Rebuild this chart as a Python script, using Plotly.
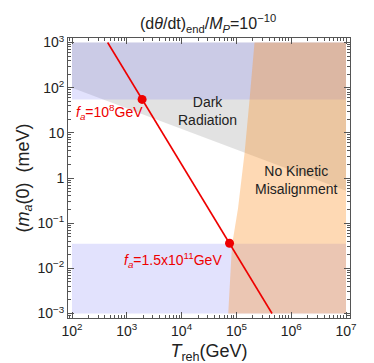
import plotly.graph_objects as go

# ---- data ----
x_range = [1e2, 1e7]
y_range = [1e-3, 1e3]

# Dark radiation lower boundary (T_reh, m_a)
dr_T = [1e2, 1e7]
dr_m = [100.0, 0.525]

# blue exclusion bands (m_a limits)
blue_top_low = 55.0
blue_bot_high = 0.035

# No-kinetic-misalignment boundary (T_reh, m_a)
nkm_T = [7.1e4, 8.3e4, 1.07e5, 1.41e5, 1.74e5, 2.14e5]
nkm_m = [1e-3, 0.032, 0.21, 3.6, 55.0, 1e3]

# red f_a line endpoints and dots
line_T = [447.0, 4.47e5]
line_m = [1e3, 1e-3]
dot_T = [1.9e3, 7.5e4]
dot_m = [55.0, 0.036]

xtick_vals = [1e2, 1e3, 1e4, 1e5, 1e6, 1e7]
xtick_text = ["10<sup>2</sup>", "10<sup>3</sup>", "10<sup>4</sup>", "10<sup>5</sup>", "10<sup>6</sup>", "10<sup>7</sup>"]
ytick_vals = [1e-3, 1e-2, 1e-1, 1, 10, 1e2, 1e3]
ytick_text = ["10<sup>−3</sup>", "10<sup>−2</sup>", "10<sup>−1</sup>", "1", "10", "10<sup>2</sup>", "10<sup>3</sup>"]

GRAY = "rgba(150,150,150,0.28)"
BLUE = "rgba(120,120,245,0.21)"
ORANGE = "rgba(252,145,35,0.34)"
RED = "#ee0000"

fig = go.Figure()

fig.add_trace(go.Scatter(
    x=[dr_T[0], dr_T[1], x_range[1], x_range[0], dr_T[0]],
    y=[dr_m[0], dr_m[1], y_range[1], y_range[1], dr_m[0]],
    fill="toself", fillcolor=GRAY, line=dict(width=0), mode="lines",
    hoverinfo="skip", showlegend=False))

fig.add_trace(go.Scatter(
    x=[x_range[0], x_range[1], x_range[1], x_range[0], x_range[0]],
    y=[blue_top_low, blue_top_low, y_range[1], y_range[1], blue_top_low],
    fill="toself", fillcolor=BLUE, line=dict(width=0), mode="lines",
    hoverinfo="skip", showlegend=False))
fig.add_trace(go.Scatter(
    x=[x_range[0], x_range[1], x_range[1], x_range[0], x_range[0]],
    y=[y_range[0], y_range[0], blue_bot_high, blue_bot_high, y_range[0]],
    fill="toself", fillcolor=BLUE, line=dict(width=0), mode="lines",
    hoverinfo="skip", showlegend=False))

fig.add_trace(go.Scatter(
    x=nkm_T + [x_range[1], x_range[1], nkm_T[0]],
    y=nkm_m + [y_range[1], y_range[0], nkm_m[0]],
    fill="toself", fillcolor=ORANGE, line=dict(width=0), mode="lines",
    hoverinfo="skip", showlegend=False))

fig.add_trace(go.Scatter(x=line_T, y=line_m, mode="lines",
                         line=dict(color=RED, width=1.6), showlegend=False))
fig.add_trace(go.Scatter(x=dot_T, y=dot_m, mode="markers",
                         marker=dict(color=RED, size=9), showlegend=False))

FONT = "Liberation Sans, Arial, sans-serif"

annots = [
    dict(x=2.69, y=1.47, text="<i>f<sub>a</sub></i>=10<sup>8</sup>GeV", font=dict(color=RED, size=14)),
    dict(x=3.84, y=-1.82, text="<i>f<sub>a</sub></i>=1.5x10<sup>11</sup>GeV", font=dict(color=RED, size=14)),
    dict(x=4.48, y=1.49, text="Dark<br>Radiation", font=dict(color="#222", size=14)),
    dict(x=6.09, y=-0.04, text="No Kinetic<br>Misalignment", font=dict(color="#222", size=14)),
]
for a in annots:
    fig.add_annotation(xref="x", yref="y", showarrow=False, **a)

axis_common = dict(
    type="log", showgrid=False, zeroline=False,
    showline=True, linecolor="#555", linewidth=1, mirror="allticks",
    ticks="inside", ticklen=6, tickcolor="#555",
    tickfont=dict(size=14, color="#222", family=FONT),
    minor=dict(ticks="inside", ticklen=3, tickcolor="#555", dtick="D1"),
)

fig.update_xaxes(range=[1.927, 7.073], tickvals=xtick_vals, ticktext=xtick_text,
                 title=dict(text="<i>T</i><sub>reh</sub>(GeV)", font=dict(size=18, color="#222", family=FONT), standoff=6),
                 **axis_common)
fig.update_yaxes(range=[-3.1, 3.1], tickvals=ytick_vals, ticktext=ytick_text,
                 title=dict(text="(<i>m<sub>a</sub></i>(0)  (meV)", font=dict(size=18, color="#222", family=FONT), standoff=3),
                 **axis_common)

fig.update_layout(
    width=374, height=363,
    margin=dict(l=60, r=32, t=30, b=53),
    plot_bgcolor="white", paper_bgcolor="white",
    font=dict(family=FONT),
    title=dict(text="(d<i>θ</i>/dt)<sub>end</sub>/<i>M<sub>P</sub></i>=10<sup>−10</sup>",
               x=0.535, xanchor="center", y=0.957, yanchor="middle",
               font=dict(size=16, color="#222", family=FONT)),
)

fig.write_html("out.html")
